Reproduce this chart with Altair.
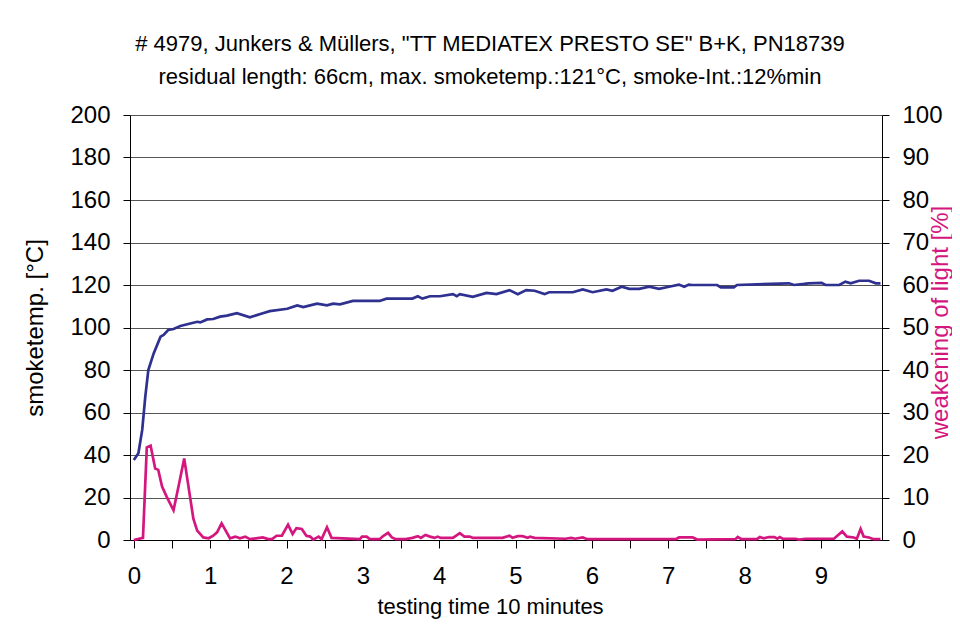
import altair as alt
import pandas as pd

FONT = "Liberation Sans"
BLUE = "#2e3190"
MAGENTA = "#d4177f"

# smoke temperature [°C] vs testing time [min]
temp_time = [0.00, 0.06, 0.11, 0.15, 0.19, 0.26, 0.35, 0.39, 0.45, 0.52, 0.61, 0.70, 0.83, 0.87,
             0.96, 1.04, 1.13, 1.22, 1.35, 1.52, 1.69, 1.78, 2.01, 2.14, 2.22, 2.40, 2.53, 2.61,
             2.70, 2.87, 3.22, 3.31, 3.65, 3.72, 3.78, 3.88, 4.01, 4.18, 4.23, 4.27, 4.44, 4.62,
             4.75, 4.92, 5.03, 5.14, 5.25, 5.38, 5.44, 5.75, 5.88, 6.01, 6.19, 6.27, 6.39, 6.49,
             6.62, 6.75, 6.88, 7.01, 7.14, 7.21, 7.27, 7.31, 7.64, 7.69, 7.86, 7.90, 8.58, 8.65,
             8.78, 8.84, 9.01, 9.06, 9.24, 9.32, 9.39, 9.50, 9.63, 9.72, 9.78]
temp_value = [37.6, 40.8, 51.8, 67.4, 80.0, 87.8, 95.7, 96.5, 98.8, 99.3, 100.7, 101.5, 102.7, 102.4,
              103.8, 104.0, 105.1, 105.6, 106.7, 104.8, 106.7, 107.7, 108.8, 110.4, 109.6, 111.2, 110.4, 111.2,
              110.9, 112.5, 112.5, 113.6, 113.6, 114.7, 113.6, 114.7, 114.7, 115.7, 114.7, 115.7, 114.4, 116.3,
              115.7, 117.6, 115.7, 117.6, 117.3, 115.7, 116.6, 116.6, 117.9, 116.6, 117.9, 117.3, 119.2, 118.2,
              118.2, 119.2, 118.2, 119.2, 120.2, 119.2, 120.2, 120.0, 120.0, 118.9, 118.9, 120.0, 120.8, 120.0,
              120.5, 120.8, 121.0, 120.0, 120.0, 121.6, 120.8, 122.0, 122.0, 120.8, 120.8]

# weakening of light [%] vs testing time [min]
light_time = [0.00, 0.12, 0.17, 0.22, 0.28, 0.32, 0.37, 0.43, 0.52, 0.59, 0.66, 0.78, 0.83, 0.91,
              0.98, 1.04, 1.09, 1.15, 1.26, 1.33, 1.39, 1.46, 1.52, 1.69, 1.76, 1.81, 1.87, 1.94,
              2.02, 2.08, 2.13, 2.20, 2.26, 2.31, 2.35, 2.42, 2.46, 2.53, 2.59, 2.96, 2.99, 3.05,
              3.09, 3.22, 3.27, 3.33, 3.38, 3.43, 3.56, 3.65, 3.72, 3.76, 3.82, 3.88, 3.94, 3.98,
              4.02, 4.18, 4.27, 4.33, 4.40, 4.44, 4.83, 4.92, 4.96, 5.03, 5.09, 5.16, 5.19, 5.25,
              5.65, 5.73, 5.78, 5.88, 5.94, 7.10, 7.14, 7.32, 7.38, 7.88, 7.91, 7.96, 8.16, 8.20,
              8.25, 8.32, 8.39, 8.43, 8.46, 8.50, 8.67, 8.71, 8.80, 9.17, 9.28, 9.34, 9.43, 9.47,
              9.52, 9.56, 9.63, 9.69, 9.78]
light_value = [0.0, 0.5, 21.8, 22.2, 16.8, 16.5, 12.6, 10.2, 7.0, 13.0, 19.2, 5.0, 2.2, 0.6,
               0.4, 1.0, 1.8, 3.9, 0.4, 0.8, 0.4, 0.8, 0.2, 0.6, 0.2, 0.2, 1.0, 1.0,
               3.6, 1.4, 2.8, 2.6, 1.0, 0.8, 0.1, 0.8, 0.2, 3.0, 0.5, 0.2, 0.8, 0.8,
               0.2, 0.2, 1.0, 1.7, 0.6, 0.2, 0.2, 0.5, 0.9, 0.5, 1.2, 0.8, 0.5, 0.8,
               0.5, 0.5, 1.6, 0.8, 0.8, 0.5, 0.5, 1.0, 0.5, 0.9, 0.9, 0.5, 0.8, 0.5,
               0.3, 0.5, 0.3, 0.6, 0.2, 0.2, 0.6, 0.6, 0.1, 0.2, 0.7, 0.2, 0.2, 0.7,
               0.4, 0.7, 0.7, 0.3, 0.7, 0.3, 0.3, 0.1, 0.3, 0.3, 2.0, 0.8, 0.6, 0.3,
               2.6, 0.8, 0.6, 0.2, 0.2]

x_tick_values = [0, 0.5, 1, 1.5, 2, 2.5, 3, 3.5, 4, 4.5, 5, 5.5, 6, 6.5, 7, 7.5, 8, 8.5, 9, 9.5]
left_ticks = [0, 20, 40, 60, 80, 100, 120, 140, 160, 180, 200]
right_ticks = [0, 10, 20, 30, 40, 50, 60, 70, 80, 90, 100]

title_lines = ['# 4979, Junkers & Müllers, "TT MEDIATEX PRESTO SE" B+K, PN18739',
               'residual length: 66cm, max. smoketemp.:121°C, smoke-Int.:12%min']

temp_df = pd.DataFrame({"t": temp_time, "temp": temp_value})
light_df = pd.DataFrame({"t": light_time, "light": light_value})

x_scale = alt.Scale(domain=[-0.05, 9.8], nice=False, zero=False)
x_axis = alt.Axis(
    values=x_tick_values,
    labelExpr="datum.value % 1 === 0 ? format(datum.value, 'd') : ''",
    title="testing time 10 minutes",
    titleX=360,
    grid=False, tickSize=8, tickColor="black", domainColor="black",
    labelFontSize=24, labelFont=FONT, labelColor="black", labelPadding=16,
    titleFontSize=22, titleFont=FONT, titleColor="black", titleFontWeight="normal",
    titlePadding=8,
)

temp_line = alt.Chart(temp_df).mark_line(color=BLUE, strokeWidth=2.7).encode(
    x=alt.X("t:Q", scale=x_scale, axis=x_axis),
    y=alt.Y("temp:Q", scale=alt.Scale(domain=[0, 200], nice=False),
            axis=alt.Axis(values=left_ticks, title="smoketemp. [°C]", grid=True,
                          gridColor="#555555", gridWidth=1,
                          tickSize=7, tickColor="black", domainColor="black",
                          labelFontSize=24, labelFont=FONT, labelColor="black", labelPadding=13,
                          titleFontSize=24, titleFont=FONT, titleColor="black",
                          titleFontWeight="normal", titlePadding=22)),
)

light_line = alt.Chart(light_df).mark_line(color=MAGENTA, strokeWidth=2.7).encode(
    x=alt.X("t:Q", scale=x_scale, axis=x_axis),
    y=alt.Y("light:Q", scale=alt.Scale(domain=[0, 100], nice=False),
            axis=alt.Axis(orient="right", values=right_ticks, title="weakening of light [%]",
                          grid=False, tickSize=7, tickColor="black", domainColor="black",
                          labelFontSize=24, labelFont=FONT, labelColor="black", labelPadding=13,
                          titleFontSize=24, titleFont=FONT, titleColor=MAGENTA,
                          titleFontWeight="normal", titleAngle=270,
                          titleX=58, titleY=207, titleBaseline="middle", titleAlign="center")),
)

chart = alt.layer(temp_line, light_line).resolve_scale(y="independent").properties(
    width=752,
    height=425,
    title=alt.TitleParams(title_lines, fontSize=22, font=FONT, fontWeight="normal",
                          color="black", lineHeight=33, dx=-16, offset=14),
    padding={"left": 122, "top": 107, "right": 70, "bottom": 84},
    autosize=alt.AutoSizeParams(type="none"),
    background="white",
).configure_view(stroke=None)

chart.save("out.html", embed_options={"renderer": "svg", "actions": False})
